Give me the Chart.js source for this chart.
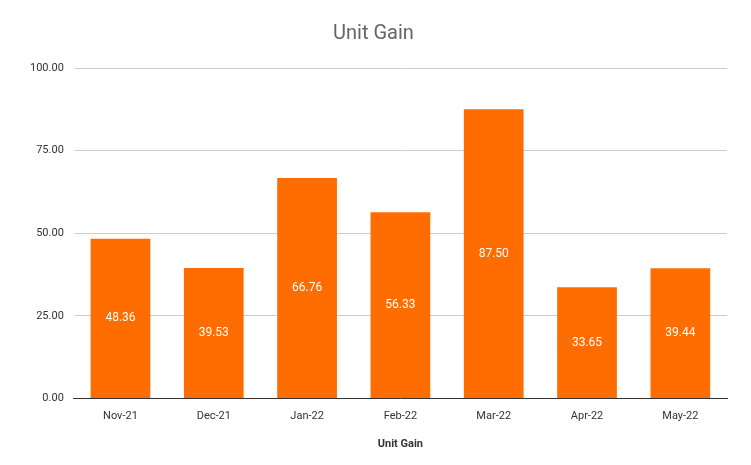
<!DOCTYPE html>
<html><head><meta charset="utf-8">
<script src="https://cdn.jsdelivr.net/npm/chart.js@4"></script>
<style>html,body{margin:0;padding:0;background:#fff}#w{width:751px;height:465px}</style>
</head><body><div id="w"><canvas id="c"></canvas></div>
<script>
const categories=["Nov-21","Dec-21","Jan-22","Feb-22","Mar-22","Apr-22","May-22"];
const values=[48.36,39.53,66.76,56.33,87.50,33.65,39.44];
const yTicks=[0,25,50,75,100];
const labelPlugin={id:'lbl',afterDatasetsDraw(chart){const ctx=chart.ctx;const meta=chart.getDatasetMeta(0);ctx.save();ctx.fillStyle='#fff';ctx.font='12px Roboto, Arial';ctx.textAlign='center';ctx.textBaseline='middle';meta.data.forEach((b,i)=>{ctx.fillText(values[i].toFixed(2),b.x,(b.y+b.base)/2);});ctx.restore();}};
new Chart(document.getElementById('c'),{type:'bar',
data:{labels:categories,datasets:[{data:values,backgroundColor:'#FF6D01',categoryPercentage:0.64,barPercentage:1}]},
options:{responsive:true,maintainAspectRatio:false,animation:false,
layout:{padding:{left:20,right:24,top:0,bottom:10}},
plugins:{legend:{display:false},tooltip:{enabled:false},
title:{display:true,text:'Unit Gain',color:'#666',font:{family:'Roboto, Arial',size:20,weight:'normal'},padding:{top:22,bottom:22}}},
scales:{
x:{grid:{display:false},border:{color:'#333'},ticks:{color:'#333',font:{family:'Roboto, Arial',size:11}},
title:{display:true,text:'Unit Gain',color:'#333',font:{family:'Roboto, Arial',size:11,weight:'bold'},padding:{top:12}}},
y:{min:0,max:100,afterBuildTicks(s){s.ticks=yTicks.map(v=>({value:v}));},
grid:{color:'#ccc',drawTicks:false},border:{display:false},
ticks:{color:'#333',padding:10,font:{family:'Roboto, Arial',size:11},callback:v=>v.toFixed(2)}}}},
plugins:[labelPlugin]});
</script></body></html>
